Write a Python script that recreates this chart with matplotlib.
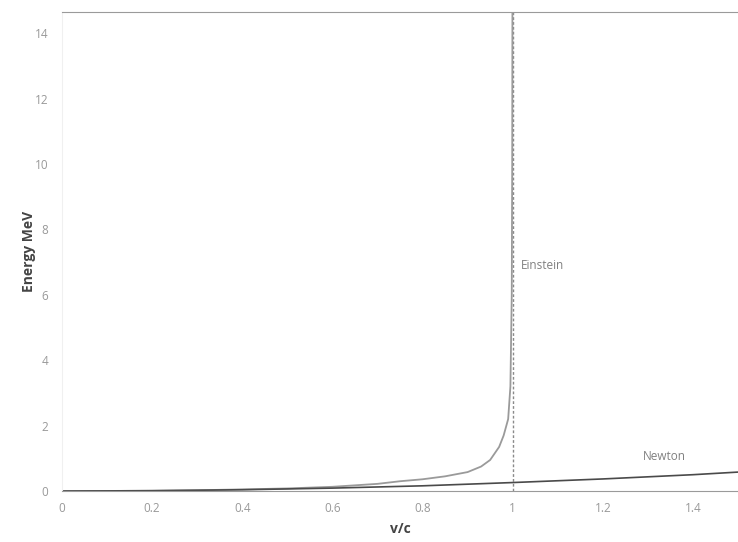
import matplotlib
matplotlib.use("Agg")
import matplotlib.pyplot as plt

# Einstein (relativistic) kinetic energy
einstein_x = [0.0, 0.1, 0.2, 0.3, 0.4, 0.5, 0.6, 0.7, 0.75, 0.8, 0.85, 0.9,
              0.93, 0.95, 0.97, 0.98, 0.99, 0.995, 0.998, 0.999, 0.9995]
einstein_y = [0.0, 0.003, 0.01, 0.025, 0.05, 0.08, 0.13, 0.22, 0.3, 0.36, 0.45, 0.58,
              0.75, 0.95, 1.35, 1.7, 2.2, 3.2, 6.0, 10.0, 15.0]

# Newton (classical) kinetic energy
newton_x = [0.0, 0.2, 0.4, 0.6, 0.8, 1.0, 1.2, 1.4, 1.5]
newton_y = [0.0, 0.01, 0.04, 0.09, 0.16, 0.26, 0.37, 0.5, 0.58]

x_ticks = [0, 0.2, 0.4, 0.6, 0.8, 1.0, 1.2, 1.4]
x_tick_labels = ["0", "0.2", "0.4", "0.6", "0.8", "1", "1.2", "1.4"]
y_ticks = [0, 2, 4, 6, 8, 10, 12, 14]

plt.rcParams["font.family"] = ["Open Sans", "DejaVu Sans"]

fig = plt.figure(figsize=(7.38, 5.42), dpi=100)
ax = fig.add_axes([0.084, 0.094, 0.916, 0.884])

ax.axvline(1.0, color="#8a8a8a", linestyle=(0, (2, 1.5)), linewidth=1.0)
ax.plot(einstein_x, einstein_y, color="#9a9a9a", linewidth=1.3)
ax.plot(newton_x, newton_y, color="#4a4a4a", linewidth=1.2)

ax.text(1.018, 6.9, "Einstein", fontsize=8.5, color="#808080", va="center")
ax.text(1.29, 1.07, "Newton", fontsize=8.5, color="#808080", va="center")

ax.set_xlim(0, 1.5)
ax.set_ylim(0, 14.65)
ax.set_xticks(x_ticks)
ax.set_xticklabels(x_tick_labels)
ax.set_yticks(y_ticks)
ax.tick_params(length=0, labelsize=8.5, labelcolor="#999999")
ax.tick_params(axis="y", pad=10)
ax.tick_params(axis="x", pad=8)

ax.spines["right"].set_visible(False)
ax.spines["left"].set_color("#f0f0f0")
ax.spines["top"].set_color("#9a9a9a")
ax.spines["top"].set_linestyle((0, (2, 1)))
ax.spines["bottom"].set_color("#9a9a9a")
ax.spines["bottom"].set_linestyle((0, (2, 1)))

ax.set_xlabel("v/c", fontsize=10, fontweight="bold", color="#444444", labelpad=5)
ax.set_ylabel("Energy MeV", fontsize=10, fontweight="bold", color="#444444")
ax.yaxis.set_label_coords(-0.039, 0.5)

fig.savefig("out.png", dpi=100)
